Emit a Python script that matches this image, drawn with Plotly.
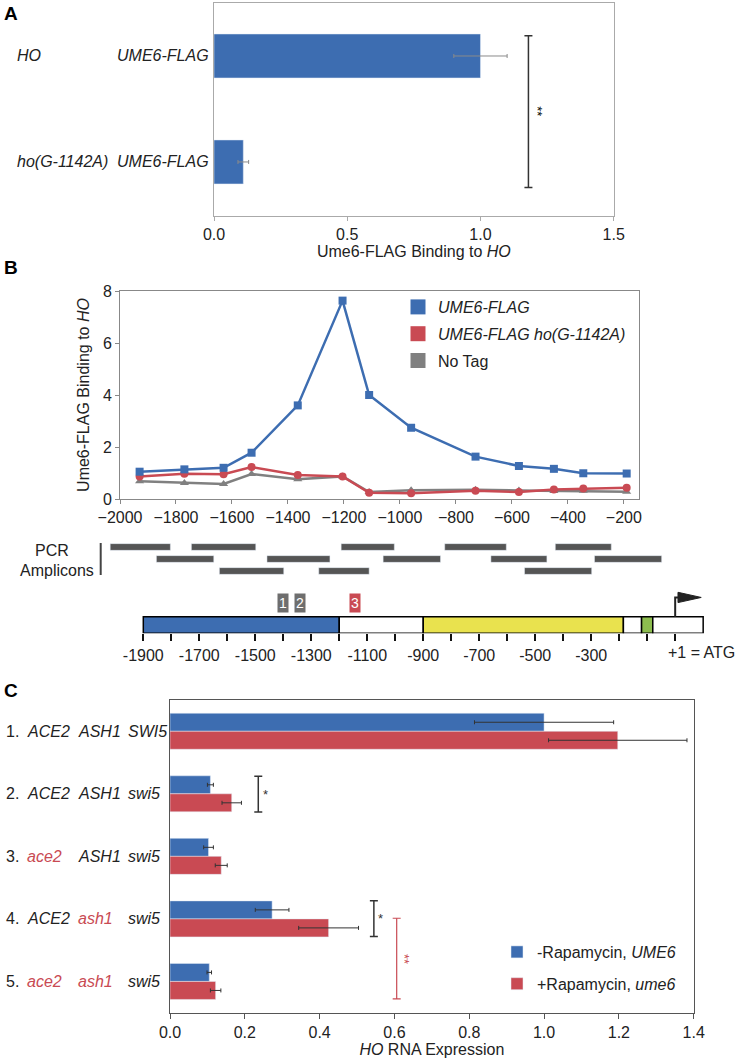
import plotly.graph_objects as go

W, H = 736, 1060
FONT = "Liberation Sans, Arial, sans-serif"
BLUE = "#3d6db1"
RED = "#c94a53"
GRAY = "#808080"
DARK = "#333333"
YELLOW = "#e9e24e"
GREEN = "#8dbd4f"
AMP = "#555555"


def px(x):
    return x / W


def py(y):
    return 1 - y / H


# ---------------- Panel A data ----------------
a_promoter = ["HO", "ho(G-1142A)"]
a_strain = ["UME6-FLAG", "UME6-FLAG"]
a_binding = [1.00, 0.11]
a_err = [0.10, 0.02]
a_sig_x = 1.18
a_sig_span = [-0.19, 1.24]

# ---------------- Panel B data ----------------
b_pos = [-1930, -1770, -1630, -1530, -1365, -1205, -1110, -960, -730, -575, -450, -345, -190]
b_ume6 = [1.05, 1.14, 1.20, 1.78, 3.60, 7.63, 4.00, 2.74, 1.63, 1.27, 1.16, 0.99, 0.98]
b_mut = [0.87, 0.97, 0.95, 1.23, 0.92, 0.87, 0.24, 0.22, 0.32, 0.27, 0.37, 0.40, 0.43]
b_notag = [0.68, 0.62, 0.58, 0.96, 0.76, 0.87, 0.27, 0.34, 0.36, 0.33, 0.31, 0.32, 0.28]
b_xticks = list(range(-2000, -199, 200))

# PCR amplicons (start, end, row)
amp_start = [-2035, -1870, -1745, -1645, -1475, -1290, -1210, -1060, -840, -675, -555, -445, -305]
amp_end = [-1820, -1665, -1515, -1415, -1250, -1110, -1020, -855, -620, -475, -315, -245, -65]
amp_row = [1, 2, 1, 3, 2, 3, 1, 2, 1, 2, 3, 1, 2]

# Promoter schematic
seg_start = [-1900, -1200, -900, -185, -120, -80]
seg_end = [-1200, -900, -185, -120, -80, 100]
seg_color = [BLUE, "white", YELLOW, "white", GREEN, "white"]
site_pos = [-1400, -1342, -1142]
site_label = ["1", "2", "3"]
site_color = ["#6e6e6e", "#6e6e6e", RED]
sch_ticks = list(range(-1900, 1, 100))
sch_labels = [str(t) if (t + 1900) % 200 == 0 and t <= -300 else "" for t in sch_ticks]

# ---------------- Panel C data ----------------
c_num = ["1.", "2.", "3.", "4.", "5."]
c_ace2 = ["ACE2", "ACE2", "ace2", "ACE2", "ace2"]
c_ash1 = ["ASH1", "ASH1", "ASH1", "ash1", "ash1"]
c_swi5 = ["SWI5", "swi5", "swi5", "swi5", "swi5"]
c_minus = [1.00, 0.108, 0.103, 0.273, 0.105]
c_minus_err = [0.186, 0.008, 0.013, 0.045, 0.006]
c_plus = [1.197, 0.165, 0.137, 0.424, 0.122]
c_plus_err = [0.185, 0.026, 0.016, 0.080, 0.014]
c_brackets = [  # x, y0, y1, color, label
    (0.236, 1.72, 2.29, DARK, "*"),
    (0.545, 3.71, 4.28, DARK, "*"),
    (0.606, 3.99, 5.28, RED, "**"),
]


def bracket(x, y0, y1, cap):
    return ([x - cap, x + cap, None, x, x, None, x - cap, x + cap],
            [y0, y0, None, y0, y1, None, y1, y1])


fig = go.Figure()

# ---- Panel A ----
fig.add_trace(go.Bar(
    orientation="h", y=[0, 1], x=a_binding, width=0.415,
    marker=dict(color=BLUE),
    error_x=dict(type="data", array=a_err, color="#8a8a8a", thickness=1, width=2),
    xaxis="x", yaxis="y", showlegend=False))
bx, by = bracket(a_sig_x, a_sig_span[0], a_sig_span[1], 0.015)
fig.add_trace(go.Scatter(x=bx, y=by, mode="lines", line=dict(color=DARK, width=1.5),
                         xaxis="x", yaxis="y", showlegend=False, hoverinfo="skip"))

# ---- Panel B ----
for vals, col, sym, size in [(b_notag, GRAY, "triangle-up", 8),
                             (b_mut, RED, "circle", 8),
                             (b_ume6, BLUE, "square", 8)]:
    fig.add_trace(go.Scatter(x=b_pos, y=vals, mode="lines+markers",
                             line=dict(color=col, width=2.5),
                             marker=dict(color=col, symbol=sym, size=size),
                             xaxis="x2", yaxis="y2", showlegend=False))
for name, col, grp in [("<i>UME6-FLAG</i>", BLUE, "g1"),
                       ("<i>UME6-FLAG ho(G-1142A)</i>", RED, "g2"),
                       ("No Tag", GRAY, "g3")]:
    fig.add_trace(go.Scatter(x=[None], y=[None], mode="markers", name=name,
                             marker=dict(color=col, symbol="square", size=15),
                             xaxis="x2", yaxis="y2", legend="legend", legendgroup=grp))

# ---- Amplicons ----
fig.add_trace(go.Bar(
    orientation="h", y=amp_row, base=amp_start,
    x=[e - s for s, e in zip(amp_start, amp_end)], width=0.56,
    marker=dict(color=AMP), xaxis="x3", yaxis="y3", showlegend=False))

# ---- Schematic ----
fig.add_trace(go.Bar(
    orientation="h", y=[0] * len(seg_start), base=seg_start,
    x=[e - s for s, e in zip(seg_start, seg_end)], width=1,
    marker=dict(color=seg_color, line=dict(color="black", width=1.5)),
    xaxis="x4", yaxis="y4", showlegend=False))
ARROW_Y = 1.66
fig.add_trace(go.Scatter(x=[0, 0, 12], y=[0.5, ARROW_Y, ARROW_Y], mode="lines",
                         line=dict(color="#222", width=2), xaxis="x4", yaxis="y4",
                         showlegend=False, hoverinfo="skip"))
fig.add_trace(go.Scatter(x=[10, 93, 10, 10], y=[ARROW_Y + 0.31, ARROW_Y, ARROW_Y - 0.31, ARROW_Y + 0.31],
                         mode="lines", fill="toself", fillcolor="#222",
                         line=dict(color="#222", width=1), xaxis="x4", yaxis="y4",
                         showlegend=False, hoverinfo="skip"))

# ---- Panel C ----
fig.add_trace(go.Bar(
    orientation="h", y=[1, 2, 3, 4, 5], x=c_minus, width=0.288, offset=-0.288,
    marker=dict(color=BLUE), name="-Rapamycin, <i>UME6</i>",
    error_x=dict(type="data", array=c_minus_err, color=DARK, thickness=1, width=2),
    xaxis="x5", yaxis="y5", legend="legend2", legendgroup="c1"))
fig.add_trace(go.Bar(
    orientation="h", y=[1, 2, 3, 4, 5], x=c_plus, width=0.288, offset=0,
    marker=dict(color=RED), name="+Rapamycin, <i>ume6</i>",
    error_x=dict(type="data", array=c_plus_err, color=DARK, thickness=1, width=2),
    xaxis="x5", yaxis="y5", legend="legend2", legendgroup="c2"))
for (x, y0, y1, col, lab) in c_brackets:
    bx, by = bracket(x, y0, y1, 0.0107)
    fig.add_trace(go.Scatter(x=bx, y=by, mode="lines",
                             line=dict(color=col, width=1.5 if col == DARK else 1.2),
                             xaxis="x5", yaxis="y5", showlegend=False, hoverinfo="skip"))

ann = []
tf = dict(family=FONT, size=16, color="#222")
# Panel letters
for letter, yy in [("A", 13), ("B", 268), ("C", 690)]:
    ann.append(dict(text=f"<b>{letter}</b>", x=px(2), y=py(yy), xref="paper", yref="paper",
                    xanchor="left", yanchor="middle", showarrow=False,
                    font=dict(family=FONT, size=19, color="black")))
# Panel A labels
for i, (p, s) in enumerate(zip(a_promoter, a_strain)):
    ann.append(dict(text=f"<i>{p}</i>", x=px(15), y=i, xref="paper", yref="y",
                    xanchor="left", yanchor="middle", showarrow=False, font=tf))
    ann.append(dict(text=f"<i>{s}</i>", x=px(211), y=i, xref="paper", yref="y",
                    xanchor="right", yanchor="middle", showarrow=False, font=tf))
ann.append(dict(text="**", x=a_sig_x, y=(a_sig_span[0] + a_sig_span[1]) / 2, xref="x", yref="y",
                xshift=9, textangle=90, showarrow=False,
                font=dict(family=FONT, size=13, color="black")))
# PCR amplicons label
ann.append(dict(text="PCR", x=px(52), y=py(550), xref="paper", yref="paper",
                xanchor="center", yanchor="middle", showarrow=False, font=tf))
ann.append(dict(text="Amplicons", x=px(96), y=py(570), xref="paper", yref="paper",
                xanchor="right", yanchor="middle", showarrow=False, font=tf))
# Schematic sites
for pos, lab, col in zip(site_pos, site_label, site_color):
    ann.append(dict(text=lab, x=pos, y=1.33, xref="x4", yref="y4", showarrow=False,
                    bgcolor=col, borderpad=1,
                    font=dict(family=FONT, size=14, color="white")))
ann.append(dict(text="+1 = ATG", x=0, y=py(652), xref="x4", yref="paper", xshift=-9,
                xanchor="left", yanchor="middle", showarrow=False, font=tf))
# Panel C labels
for i in range(5):
    yv = i + 1
    ann.append(dict(text=c_num[i], x=px(4), y=yv, xref="paper", yref="y5",
                    xanchor="left", yanchor="middle", showarrow=False, font=tf))
    for col_x, g in [(25, c_ace2[i]), (76, c_ash1[i])]:
        colr = RED if g.islower() else "#222"
        ann.append(dict(text=f"<i>{g}</i>", x=px(col_x), y=yv, xref="paper", yref="y5",
                        xanchor="left", yanchor="middle", showarrow=False,
                        font=dict(family=FONT, size=16, color=colr)))
    ann.append(dict(text=f"<i>{c_swi5[i]}</i>", x=px(126), y=yv, xref="paper", yref="y5",
                    xanchor="left", yanchor="middle", showarrow=False, font=tf))
for (x, y0, y1, col, lab) in c_brackets:
    ann.append(dict(text=lab, x=x, y=(y0 + y1) / 2, xref="x5", yref="y5",
                    xshift=7 if lab == "*" else 8, textangle=0 if lab == "*" else 90,
                    showarrow=False, font=dict(family=FONT, size=13, color=col)))

shapes = [dict(type="line", xref="paper", yref="paper", x0=px(100.7), x1=px(100.7),
               y0=py(543), y1=py(575), line=dict(color="#444", width=2))]

# axis geometry
B_X0, B_X1 = 120, 639
B_RANGE = [-2000, -146]
b_scale = (B_X1 - B_X0) / (B_RANGE[1] - B_RANGE[0])
amp_range = [B_RANGE[0] - B_X0 / b_scale, B_RANGE[0] + (W - B_X0) / b_scale]
S_X0 = 143.3
sch_range = [-1900 - S_X0 / b_scale, -1900 + (W - S_X0) / b_scale]

axis_font = dict(family=FONT, size=16, color="#222")
common = dict(showgrid=False, zeroline=False, automargin=False)

fig.update_layout(
    width=W, height=H, margin=dict(l=0, r=0, t=0, b=0, autoexpand=False),
    paper_bgcolor="white", plot_bgcolor="white",
    font=dict(family=FONT, size=16, color="#222"),
    barmode="overlay",
    xaxis=dict(domain=[px(214), px(613.7)], range=[0, 1.5], tickvals=[0, 0.5, 1.0, 1.5],
               tickformat=".1f", ticks="outside", ticklen=4, tickcolor="#aaa",
               showline=True, linecolor="#aaa", mirror=True, tickfont=axis_font,
               title=dict(text="Ume6-FLAG Binding to <i>HO</i>", font=axis_font, standoff=1),
               anchor="y", **common),
    yaxis=dict(domain=[py(216), py(3)], range=[1.51, -0.5], showticklabels=False,
               showline=True, linecolor="#aaa", mirror=True, anchor="x", **common),
    xaxis2=dict(domain=[px(B_X0), px(B_X1)], range=B_RANGE, tickvals=b_xticks,
                ticks="outside", ticklen=4, tickcolor="#888", showline=True,
                linecolor="#888", mirror=True, tickfont=axis_font, anchor="y2", **common),
    yaxis2=dict(domain=[py(499), py(291)], range=[0, 8], dtick=2, ticks="outside",
                ticklen=4, tickcolor="#888", showline=True, linecolor="#888", mirror=True,
                tickfont=axis_font,
                title=dict(text="Ume6-FLAG Binding to <i>HO</i>", font=axis_font, standoff=9),
                anchor="x2", **common),
    xaxis3=dict(domain=[0, 1], range=amp_range, visible=False, anchor="y3", **common),
    yaxis3=dict(domain=[py(577), py(541)], range=[3.5, 0.5], visible=False, anchor="x3", **common),
    xaxis4=dict(domain=[0, 1], range=sch_range, tickvals=sch_ticks, ticktext=sch_labels,
                ticks="outside", ticklen=7, tickwidth=1.5, tickcolor="#111", showline=False,
                tickfont=axis_font, anchor="y4", **common),
    yaxis4=dict(domain=[py(633.3), py(585)], range=[-0.5, 2.41], visible=False,
                anchor="x4", **common),
    xaxis5=dict(domain=[px(170), px(693.7)], range=[0, 1.4], dtick=0.2, tickformat=".1f",
                ticks="outside", ticklen=5, tickcolor="#555", showline=True, linecolor="#555",
                mirror=True, tickfont=axis_font,
                title=dict(text="<i>HO</i> RNA Expression", font=axis_font, standoff=2),
                anchor="y5", **common),
    yaxis5=dict(domain=[py(1012.7), py(700)], range=[5.5, 0.5], showticklabels=False,
                showline=True, linecolor="#555", mirror=True, anchor="x5", **common),
    legend=dict(x=px(398), y=py(290), xanchor="left", yanchor="top",
                font=dict(family=FONT, size=16, color="#222"), bgcolor="rgba(0,0,0,0)",
                traceorder="grouped", tracegroupgap=3),
    legend2=dict(x=px(497), y=py(935), xanchor="left", yanchor="top",
                 font=dict(family=FONT, size=16, color="#222"), bgcolor="rgba(0,0,0,0)",
                 traceorder="grouped", tracegroupgap=8),
    annotations=ann, shapes=shapes,
)

fig.write_html("out.html", config={"displayModeBar": False},
               post_script="document.body.style.margin='0';document.body.style.overflow='hidden';")
